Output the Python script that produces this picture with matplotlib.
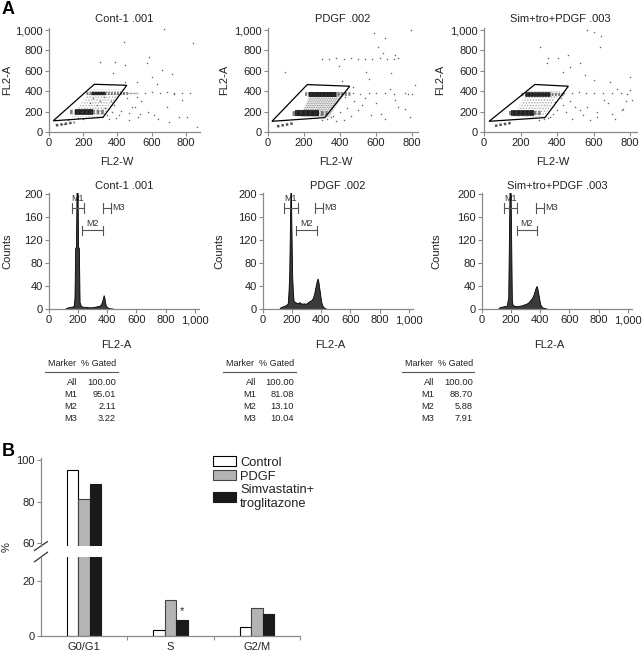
import matplotlib
matplotlib.use('Agg')
import matplotlib.pyplot as plt
from matplotlib.patches import Polygon, Patch

plt.rcParams['font.family'] = ['Liberation Sans', 'DejaVu Sans']
plt.rcParams['hatch.linewidth'] = 0.7

# ---------------- data ----------------
sample_titles = ['Cont-1 .001', 'PDGF .002', 'Sim+tro+PDGF .003']
scatter_xticks = [0, 200, 400, 600, 800]
scatter_yticks = [0, 200, 400, 600, 800, 1000]
hist_xticks = [0, 200, 400, 600, 800, 1000]
hist_yticks = [0, 40, 80, 120, 160, 200]

# gates (parallelograms) in FL2-W / FL2-A units
gate_1 = [(25, 110), (265, 468), (455, 458), (316, 144)]
gate_2 = [(22, 105), (218, 465), (454, 449), (315, 141)]
gate_3 = [(28, 105), (279, 466), (462, 449), (334, 141)]

# dense bands: (x start, x end, FL2-A, weight); entries 1 and 3 are the dense cores
bands_1 = [(125, 330, 195, 3.2), (150, 255, 195, 4.2), (215, 460, 385, 2.2), (245, 330, 385, 2.4), (460, 520, 385, 1.0)]
bands_2 = [(135, 330, 185, 3.4), (150, 285, 185, 4.4), (205, 460, 372, 2.6), (220, 380, 372, 3.6)]
bands_3 = [(135, 320, 185, 3.0), (150, 275, 185, 4.2), (205, 440, 375, 2.4), (225, 360, 375, 3.4)]

# debris tails (x0, y0, x1, y1)
tail_1 = (40, 65, 150, 95)
tail_2 = (50, 55, 140, 85)
tail_3 = (60, 60, 150, 90)

# cloud regions between the bands
cloud_1 = [(130, 150), (320, 150), (440, 420), (250, 420)]
cloud_2 = [(180, 150), (340, 150), (430, 390), (240, 390)]
cloud_3 = [(160, 150), (330, 150), (420, 400), (240, 400)]

# sparse events
pts1_x = [439, 670, 843, 298, 384, 582, 573, 661, 720, 631, 778, 616, 690, 514, 484, 533, 808, 445, 376, 445,
          514, 602, 729, 602, 651, 690, 729, 778, 827, 560, 500, 540, 470, 420, 410, 390, 350, 330, 300, 280,
          260, 240, 370, 340, 360, 380, 320, 200, 170, 110, 90, 470, 520, 580, 640, 700, 760, 867, 430, 455]
pts1_y = [885, 1006, 869, 689, 689, 738, 672, 607, 567, 475, 311, 164, 246, 344, 246, 180, 148, 492, 574, 656,
          492, 541, 377, 388, 384, 392, 380, 386, 383, 379, 250, 300, 190, 210, 170, 140, 130, 240, 300, 260,
          330, 280, 200, 170, 300, 260, 340, 130, 140, 120, 80, 120, 150, 200, 130, 100, 150, 49, 380, 330]

pts2_x = [796, 589, 648, 639, 704, 546, 685, 815, 778, 704, 630, 648, 574, 500, 759, 787, 93, 300, 340, 380,
          420, 460, 500, 540, 580, 620, 660, 700, 720, 470, 510, 560, 600, 650, 700, 760, 800, 480, 520, 440,
          400, 360, 330, 460, 420, 380, 350, 300, 540, 600, 680, 720, 430, 470, 410, 395, 560, 610]
pts2_y = [1000, 967, 918, 770, 754, 590, 574, 459, 377, 311, 180, 131, 164, 213, 229, 148, 590, 720, 715, 722,
          718, 725, 712, 720, 716, 722, 718, 715, 722, 380, 375, 383, 378, 385, 372, 380, 376, 300, 260, 240,
          200, 160, 130, 160, 120, 110, 150, 120, 330, 280, 420, 250, 340, 440, 500, 650, 520, 830]

pts3_x = [563, 600, 306, 352, 343, 407, 462, 473, 435, 527, 637, 554, 600, 692, 802, 728, 783, 811, 655, 563,
          527, 618, 481, 700, 756, 802, 440, 480, 520, 560, 600, 650, 700, 750, 470, 430, 400, 380, 360, 330,
          300, 450, 500, 420, 390, 350, 540, 580, 620, 680, 720, 760, 780, 640]
pts3_y = [1000, 984, 836, 721, 672, 721, 754, 639, 590, 672, 836, 557, 508, 492, 541, 426, 377, 311, 311, 246,
          213, 148, 131, 180, 213, 410, 385, 380, 388, 378, 384, 380, 386, 379, 300, 260, 220, 180, 150, 130,
          120, 200, 250, 330, 290, 140, 170, 120, 200, 280, 130, 230, 300, 940]

# histograms (FL2-A channel, counts)
hist1_x = [110, 120, 130, 140, 150, 160, 170, 175, 180, 185, 190, 195, 200, 205, 210, 220, 230, 240, 250, 260,
           270, 280, 290, 300, 310, 320, 330, 340, 350, 360, 370, 375, 380, 385, 390, 400, 410, 420, 430, 450]
hist1_y = [0, 2, 3, 3, 4, 4, 6, 20, 107, 107, 230, 230, 107, 107, 12, 5, 4, 4, 3, 4,
           3, 3, 3, 3, 4, 4, 5, 5, 6, 10, 18, 24, 20, 12, 6, 3, 2, 1, 1, 0]
hist2_x = [110, 120, 130, 140, 150, 160, 170, 175, 180, 185, 190, 195, 200, 205, 210, 220, 230, 240, 250, 260,
           270, 280, 290, 300, 310, 320, 330, 340, 350, 360, 370, 375, 380, 390, 400, 410, 420, 430, 440]
hist2_y = [0, 3, 4, 5, 6, 7, 10, 30, 60, 145, 230, 145, 60, 30, 14, 12, 11, 10, 12, 10,
           9, 10, 9, 10, 12, 14, 15, 18, 25, 38, 50, 53, 48, 30, 12, 5, 2, 1, 0]
hist3_x = [110, 120, 130, 140, 150, 160, 170, 180, 185, 190, 195, 200, 205, 210, 220, 230, 240, 250, 260, 270,
           280, 290, 300, 310, 320, 330, 340, 350, 360, 370, 375, 380, 390, 400, 410, 420, 430, 440, 450]
hist3_y = [0, 3, 4, 4, 5, 5, 6, 20, 125, 230, 230, 125, 15, 7, 6, 5, 5, 5, 6, 6,
           7, 8, 9, 10, 12, 15, 18, 22, 30, 38, 40, 36, 22, 8, 4, 2, 2, 1, 0]

# marker ranges (M1, M2, M3)
markers_1 = [(155, 242), (230, 372), (368, 425)]
markers_2 = [(146, 238), (226, 370), (358, 413)]
markers_3 = [(149, 237), (237, 379), (370, 425)]

table_markers = ['All', 'M1', 'M2', 'M3']
gated_1 = ['100.00', '95.01', '2.11', '3.22']
gated_2 = ['100.00', '81.08', '13.10', '10.04']
gated_3 = ['100.00', '88.70', '5.88', '7.91']

# panel B
phases = ['G0/G1', 'S', 'G2/M']
control = [95.01, 2.11, 3.22]
pdgf = [81.08, 13.10, 10.04]
simtro = [88.70, 5.88, 7.91]
legend_labels = ['Control', 'PDGF', 'Simvastatin+\ntroglitazone']

# ---------------- layout ----------------
W, H = 643, 651
fig = plt.figure(figsize=(W / 100, H / 100), dpi=100)
AX_COL = '#8a8a8a'
TXT = '#222222'


def add_ax(left, top, width, height):
    return fig.add_axes([left / W, 1 - (top + height) / H, width / W, height / H])


def style(ax):
    for s in ['top', 'right']:
        ax.spines[s].set_visible(False)
    for s in ['left', 'bottom']:
        ax.spines[s].set_color(AX_COL)
        ax.spines[s].set_linewidth(0.9)
    ax.tick_params(colors=AX_COL, labelcolor=TXT, labelsize=8, length=3, width=0.8, pad=1.5)
    ax.patch.set_alpha(0)


def fmt(v):
    return f'{v:,}'


scatter_specs = [
    (49, 151, 883, gate_1, bands_1, tail_1, cloud_1, pts1_x, pts1_y, '......', '#b0b0b0'),
    (268, 150, 833, gate_2, bands_2, tail_2, cloud_2, pts2_x, pts2_y, '.........', '#777777'),
    (484, 153, 838, gate_3, bands_3, tail_3, cloud_3, pts3_x, pts3_y, '......', '#a8a8a8'),
]
ylab_x = [7, 224, 440]
for i, (left, width, xmax, gate, bands, tail, cloud, px, py, hatch, hc) in enumerate(scatter_specs):
    ax = add_ax(left, 28, width, 104)
    style(ax)
    ax.set_xlim(0, xmax)
    ax.set_ylim(0, 1020)
    ax.add_patch(Polygon(cloud, closed=True, facecolor='none', edgecolor=hc, lw=0, hatch=hatch, zorder=1))
    ax.plot([tail[0], tail[2]], [tail[1], tail[3]], color='#555555', lw=1.8, ls=(0, (1, 0.8)), zorder=2)
    for j, (x0, x1, y, w) in enumerate(bands):
        dense = j in (1, 3)
        ax.plot([x0, x1], [y, y], color='#111111' if dense else '#555555', lw=w,
                ls='-' if dense else (0, (0.6, 0.4)), alpha=0.85 if dense else 0.75,
                solid_capstyle='butt', zorder=3)
    ax.scatter(px, py, s=1.2, color='#666666', linewidths=0, zorder=2)
    ax.add_patch(Polygon(gate, closed=True, facecolor='none', edgecolor='black', lw=0.9, zorder=4))
    ax.set_xticks(scatter_xticks)
    ax.set_xticklabels([fmt(v) for v in scatter_xticks])
    ax.set_yticks(scatter_yticks)
    ax.set_yticklabels([fmt(v) for v in scatter_yticks])
    ax.set_title(sample_titles[i], fontsize=8, color=TXT, pad=4)
    ax.set_xlabel('FL2-W', fontsize=8, color=TXT)
    ax.xaxis.set_label_coords(0.45, (132 - 157) / 104)
    fig.text(ylab_x[i] / W, 1 - 80 / H, 'FL2-A', rotation=90, fontsize=8, color=TXT, ha='center', va='center')

hist_specs = [
    (49, 150, hist1_x, hist1_y, markers_1),
    (263, 150, hist2_x, hist2_y, markers_2),
    (482, 150, hist3_x, hist3_y, markers_3),
]
hylab_x = [7, 219, 436]
for i, (left, width, hx, hy, mk) in enumerate(hist_specs):
    ax = add_ax(left, 193, width, 116)
    style(ax)
    ax.set_xlim(0, 1030)
    ax.set_ylim(0, 202)
    ax.fill_between(hx, hy, color='#3a3a3a', edgecolor='black', lw=0.6, zorder=2)
    bc = '#555555'
    levels = [176, 137, 176]
    for j, (a, b) in enumerate(mk):
        yv = levels[j]
        ax.plot([a, b], [yv, yv], color=bc, lw=0.8, zorder=3)
        ax.plot([a, a], [yv - 8, yv + 8], color=bc, lw=0.8, zorder=3)
        ax.plot([b, b], [yv - 8, yv + 8], color=bc, lw=0.8, zorder=3)
    ax.text((mk[0][0] + mk[0][1]) / 2, 184, 'M1', fontsize=6.5, color='#333333', ha='center', va='bottom', zorder=1)
    ax.text((mk[1][0] + mk[1][1]) / 2, 141, 'M2', fontsize=6.5, color='#333333', ha='center', va='bottom')
    ax.text(mk[2][1] + 8, 176, 'M3', fontsize=6.5, color='#333333', ha='left', va='center')
    ax.set_xticks(hist_xticks)
    ax.set_xticklabels([fmt(v) for v in hist_xticks])
    ax.set_yticks(hist_yticks)
    ax.set_title(sample_titles[i], fontsize=8, color=TXT, pad=3)
    ax.set_xlabel('FL2-A', fontsize=8, color=TXT)
    ax.xaxis.set_label_coords(0.45, (309 - 340) / 116)
    fig.text(hylab_x[i] / W, 1 - 251 / H, 'Counts', rotation=90, fontsize=8, color=TXT, ha='center', va='center')

# tables
table_specs = [(45, 118, 77, 116, gated_1), (223, 296, 256, 294, gated_2), (402, 474, 434, 473, gated_3)]
for (l, r, mx, vx, vals) in table_specs:
    fig.text((l + 3) / W, 1 - 364 / H, 'Marker  % Gated', fontsize=6.5, color=TXT, va='center', ha='left')
    fig.add_artist(plt.Line2D([l / W, r / W], [1 - 372 / H, 1 - 372 / H], color='#555555', lw=0.8))
    for k, (m, v) in enumerate(zip(table_markers, vals)):
        yy = 1 - (382 + 12.3 * k) / H
        fig.text(mx / W, yy, m, fontsize=6.7, color=TXT, ha='right', va='center')
        fig.text(vx / W, yy, v, fontsize=6.7, color=TXT, ha='right', va='center')

fig.text(2 / W, 1 - 10 / H, 'A', fontsize=13, fontweight='bold', va='center', ha='left')
fig.text(2 / W, 1 - 451 / H, 'B', fontsize=13, fontweight='bold', va='center', ha='left')

# ---------------- panel B ----------------
bw = 0.133
xs = list(range(len(phases)))
series = [(control, 'white', 'black'), (pdgf, '#b4b4b4', '#444444'), (simtro, '#1a1a1a', '#1a1a1a')]
ax_top = add_ax(41, 458, 259, 88)
ax_bot = add_ax(41, 557, 259, 79)
for ax in (ax_top, ax_bot):
    style(ax)
    ax.set_xlim(-0.5, 2.5)
    for k, (vals, fc, ec) in enumerate(series):
        ax.bar([x + (k - 1) * bw for x in xs], vals, width=bw, color=fc, edgecolor=ec, lw=0.8, zorder=2)
ax_top.set_ylim(58.6, 101)
ax_top.set_yticks([60, 80, 100])
ax_top.spines['bottom'].set_visible(False)
ax_top.tick_params(axis='x', bottom=False, labelbottom=False)
ax_bot.set_ylim(0, 28.7)
ax_bot.set_yticks([0, 20])
ax_bot.set_xticks(xs)
ax_bot.set_xticklabels(phases)
ax_bot.tick_params(axis='x', length=0, pad=4)
ax_bot.set_xticks([0.5, 1.5, 2.5], minor=True)
ax_bot.tick_params(axis='x', which='minor', length=3, color=AX_COL, width=0.8)
ax_bot.text(1 + bw, simtro[1] + 1.2, '*', ha='center', va='bottom', fontsize=8, color=TXT)

# break marks
for ax, yc in ((ax_top, 0.0), (ax_bot, 1.0)):
    ax.plot([-0.025, 0.025], [yc - 0.05, yc + 0.05] if ax is ax_top else [yc - 0.06, yc + 0.06],
            transform=ax.transAxes, color='#333333', lw=0.9, clip_on=False)

fig.text(7 / W, 1 - 547 / H, '%', rotation=90, fontsize=8, color=TXT, ha='center', va='center')

handles = [Patch(facecolor=fc, edgecolor=ec, lw=0.8) for (_, fc, ec) in series]
leg = fig.legend(handles, legend_labels, loc='upper left', bbox_to_anchor=(213 / W, 1 - 456 / H),
                 frameon=False, fontsize=9.3, handlelength=1.8, handleheight=0.85, handletextpad=0.3,
                 labelspacing=0.1, borderpad=0, borderaxespad=0)
for t in leg.get_texts():
    t.set_color(TXT)

fig.savefig('out.png', dpi=100)
